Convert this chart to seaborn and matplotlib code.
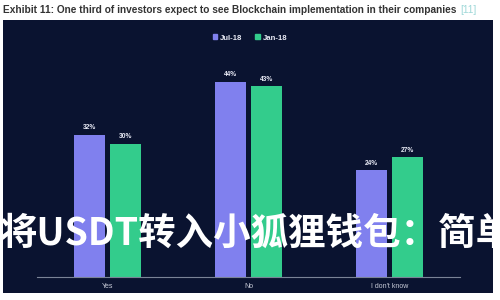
import matplotlib
matplotlib.use("Agg")
import matplotlib.pyplot as plt
import seaborn as sns
import pandas as pd
from matplotlib.patches import Rectangle

categories = ["Yes", "No", "I don't know"]
series_names = ["Jul-18", "Jan-18"]
jul18 = [32, 44, 24]
jan18 = [30, 43, 27]
title_text = "Exhibit 11: One third of investors expect to see Blockchain implementation in their companies"
ref_text = "[11]"
overlay_text = "将USDT转入小狐狸钱包：简单"

df = pd.DataFrame({
    "category": categories * 2,
    "series": [series_names[0]] * 3 + [series_names[1]] * 3,
    "value": jul18 + jan18,
})

sns.set_theme(style="white")
plt.rcParams["font.family"] = ["Liberation Sans", "DejaVu Sans"]

BG = "#0a1330"
PURPLE = "#8080ee"
GREEN = "#33cc8c"

fig = plt.figure(figsize=(5, 3), dpi=100)
fig.patch.set_facecolor("white")
fig.patches.append(Rectangle((3 / 500, 1 - 293 / 300), 490 / 500, 273 / 300,
                             transform=fig.transFigure, facecolor=BG,
                             edgecolor="none", zorder=-5))

ax = fig.add_axes([37 / 500, 1 - 277 / 300, 423 / 500, 222 / 300])
ax.set_zorder(1)
ax.set_facecolor("none")
sns.barplot(data=df, x="category", y="value", hue="series", order=categories,
            hue_order=series_names, palette=[PURPLE, GREEN], width=0.5, gap=0.12,
            saturation=1, linewidth=0, ax=ax, legend=False)
ax.set_xlim(-0.5, 2.5)
ax.set_ylim(0, 50)
for c in ax.containers:
    ax.bar_label(c, labels=[f"{int(v)}%" for v in c.datavalues], fontsize=4.8,
                 color="#e8eaf5", padding=2.5, fontweight="bold")
for s in ["top", "right", "left"]:
    ax.spines[s].set_visible(False)
ax.spines["bottom"].set_color("#7a8396")
ax.spines["bottom"].set_linewidth(0.8)
ax.set_yticks([])
ax.set_xlabel("")
ax.set_ylabel("")
ax.tick_params(axis="x", length=0, pad=4, labelsize=5, labelcolor="#c8cbd8")

# legend
handles = [Rectangle((0, 0), 1, 1, color=PURPLE), Rectangle((0, 0), 1, 1, color=GREEN)]
fig.legend(handles, series_names, loc="center", bbox_to_anchor=(0.5, 1 - 38 / 300),
           ncol=2, frameon=False, labelcolor="#e8eaf5",
           handlelength=0.6, handleheight=0.6, handletextpad=0.4, columnspacing=1.6,
           prop={"weight": "bold", "size": 5.6})

# title
t = fig.text(3 / 500, 1 - 10 / 300, title_text, fontsize=7.3, fontweight="bold",
             color="#333333", va="center", ha="left")
fig.canvas.draw()
bb = t.get_window_extent(fig.canvas.get_renderer())
fig.text((bb.x1 + 4) / 500, 1 - 10 / 300, ref_text, fontsize=7.3,
         color="#9fd8d8", va="center", ha="left")

# overlay
ov = fig.text(0.0, 1 - 233 / 300, overlay_text, fontsize=27, fontweight="bold",
              color="white", va="center", ha="left",
              family=["Noto Sans CJK SC", "DejaVu Sans"])
ov.set_zorder(5)

fig.savefig("out.png", dpi=100, facecolor="white")
